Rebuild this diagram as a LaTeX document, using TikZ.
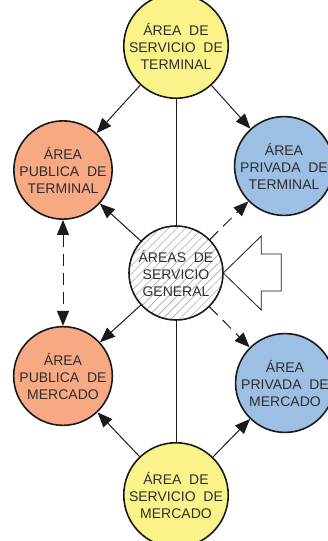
\documentclass[tikz,border=0pt]{standalone}
\usepackage{fontspec}
\setmainfont{Liberation Sans}
\usetikzlibrary{arrows.meta,patterns.meta}
\definecolor{sun}{HTML}{FAF38A}
\definecolor{peach}{HTML}{F6A982}
\definecolor{sky}{HTML}{9DBFE3}
\definecolor{ink}{HTML}{1A1A1A}
\definecolor{ink2}{HTML}{2E2E2E}
\tikzset{
  area/.style={circle, draw=ink, line width=1.6pt, minimum size=92pt, inner sep=0pt,
    align=center, text=ink2, font=\fontsize{14pt}{17pt}\selectfont},
  serv/.style={area, fill=sun},
  pub/.style={area, fill=peach},
  priv/.style={area, fill=sky},
  gen/.style={area, minimum size=94pt,
    pattern={Lines[angle=45,distance=6pt,line width=0.6pt]}, pattern color=black!35},
  arr/.style={-{Triangle[length=15pt,width=12pt]}, line width=1pt, color=ink},
  darr/.style={arr, dash pattern=on 12pt off 7pt},
  dbl/.style={{Triangle[length=15pt,width=12pt]}-{Triangle[length=15pt,width=12pt]},
    line width=1pt, color=ink, dash pattern=on 12pt off 7pt},
  ln/.style={line width=1pt, color=ink},
}
\begin{document}
\begin{tikzpicture}[x=1pt,y=-1pt]
    \useasboundingbox (0,0) rectangle (328,541);
    \node[serv] (servterm) at (176,46) {ÁREA\ \ DE\\SERVICIO\ \ DE\\TERMINAL};
    \node[pub] (pubterm) at (63,170) {ÁREA\\PUBLICA\ \ DE\\TERMINAL};
    \node[priv] (privterm) at (284,166) {ÁREA\\PRIVADA\ \ DE\\TERMINAL};
    \node[gen] (general) at (176,273) {ÁREAS\ \ DE\\SERVICIO\\GENERAL};
    \node[pub] (pubmerc) at (63,376) {ÁREA\\PUBLICA\ \ DE\\MERCADO};
    \node[priv] (privmerc) at (285,383) {ÁREA\\PRIVADA\ \ DE\\MERCADO};
    \node[serv] (servmerc) at (176,495) {ÁREA\ \ DE\\SERVICIO\ \ DE\\MERCADO};
    % solid arrows into the public / private areas
    \foreach \i/\j in {servterm/pubterm,servterm/privterm,general/pubterm,
      general/pubmerc,servmerc/pubmerc,servmerc/privmerc}
      \draw[arr] (\i) -- (\j);
    \foreach \i/\j in {general/privterm,general/privmerc} \draw[darr] (\i) -- (\j);
    \draw[dbl] (pubterm) -- (pubmerc);
    \draw[ln] (servterm) -- (general);
    \draw[ln] (general) -- (servmerc);
    % hollow entry arrow
    \draw[ln, line width=0.8pt, fill=white] (general.east) -- ++(38,-37) -- ++(0,18) -- ++(20,0)
      -- ++(0,37) -- ++(-20,0) -- ++(0,19) -- cycle;
  \end{tikzpicture}
\end{document}
